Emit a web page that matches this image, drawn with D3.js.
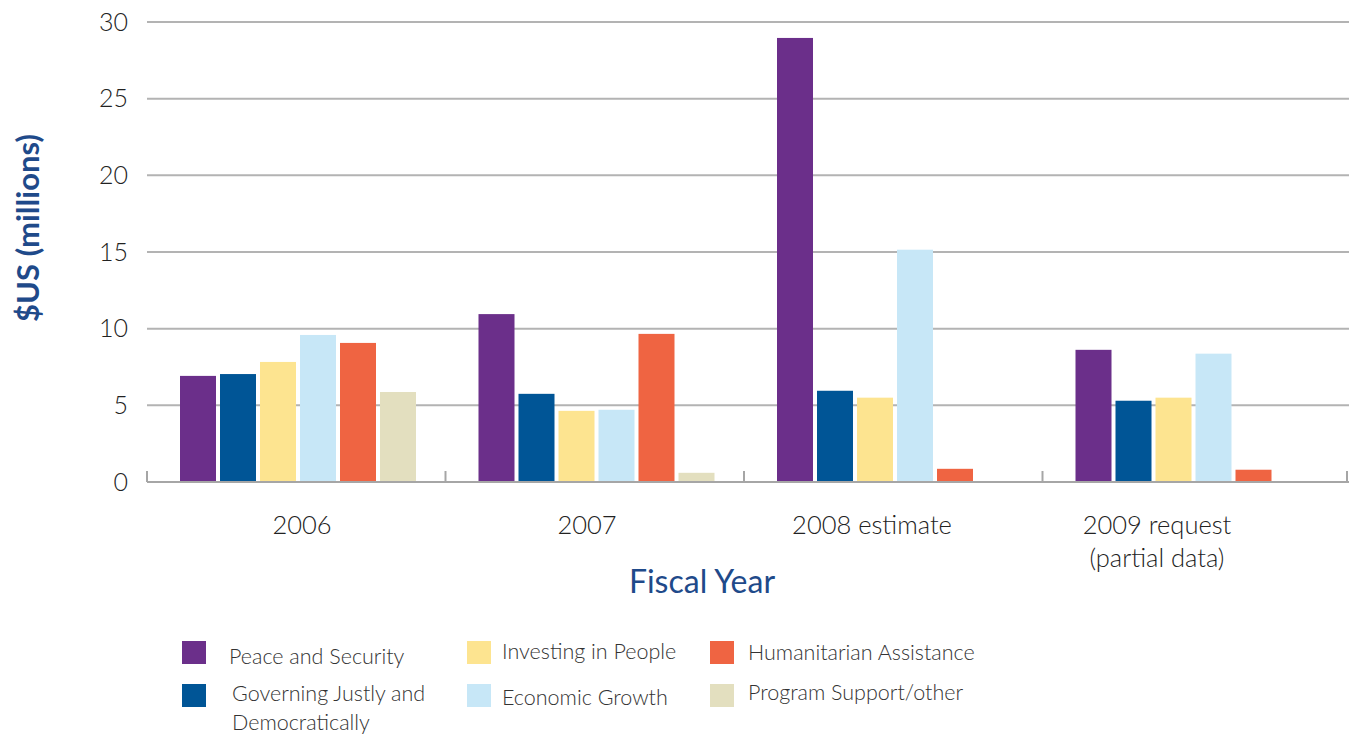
<!DOCTYPE html>
<html>
<head>
<meta charset="utf-8">
<script src="https://cdn.jsdelivr.net/npm/d3@7"></script>
<style>
body { margin: 0; background: #fff; }
text { font-family: Lato, "Open Sans", sans-serif; }
</style>
</head>
<body>
<div id="chart"></div>
<script>
var years = ["2006", "2007", "2008 estimate", "2009 request|(partial data)"];
var series = ["Peace and Security", "Governing Justly and|Democratically", "Investing in People",
  "Economic Growth", "Humanitarian Assistance", "Program Support/other"];
var colors = ["#6b2f8a", "#005596", "#fde490", "#c7e7f7", "#ef6442", "#e3dfbf"];
var peace = [6.92, 10.95, 28.96, 8.62];
var governing = [7.04, 5.75, 5.95, 5.3];
var investing = [7.83, 4.64, 5.5, 5.5];
var economic = [9.59, 4.71, 15.15, 8.37];
var humanitarian = [9.07, 9.66, 0.86, 0.8];
var support = [5.87, 0.6, 0, 0];
var yTicks = [0, 5, 10, 15, 20, 25, 30];

var allValues = [peace, governing, investing, economic, humanitarian, support];

var margin = {top: 22, left: 147},
width = 1200,
height = 460;

var svg = d3.select("#chart")
.append("svg")
.attr("width", 1353)
.attr("height", 735);

var g = svg.append("g")
.attr("transform", "translate(" + margin.left + "," + margin.top + ")");

var x0 = d3.scaleBand()
.domain(years)
.range([0, 1194]);

var x1 = d3.scaleBand()
.domain(series)
.range([33, 269])
.paddingInner(0.1);

var yScale = d3.scaleLinear()
.domain([0, 30])
.range([height, 0]);

// gridlines
g.append("g")
.selectAll("line")
.data(yTicks.filter(function (d) { return d > 0; }))
.enter()
.append("line")
.attr("x1", 0)
.attr("x2", width + 2)
.attr("y1", function (d) { return yScale(d); })
.attr("y2", function (d) { return yScale(d); })
.style("stroke", "#b3b3b3")
.style("stroke-width", 2);

// y tick labels
var yAxis = g.append("g")
.call(d3.axisLeft(yScale).tickValues(yTicks).tickSize(0).tickPadding(19));
yAxis.select(".domain").remove();
yAxis.selectAll("text")
.style("font-size", "25px")
.style("font-weight", 300)
.style("fill", "#222");

// bars
allValues.forEach(function (vals, s) {
  g.append("g")
  .selectAll("rect")
  .data(vals)
  .enter()
  .append("rect")
  .attr("x", function (d, i) { return x0(years[i]) + x1(series[s]); })
  .attr("y", function (d) { return yScale(d); })
  .attr("width", x1.bandwidth())
  .attr("height", function (d) { return height - yScale(d); })
  .style("fill", colors[s]);
});

// baseline with boundary ticks
g.append("line")
.attr("x1", 0).attr("x2", width + 2)
.attr("y1", height).attr("y2", height)
.style("stroke", "#a6a6a6")
.style("stroke-width", 2);

var bounds = years.map(function (d) { return x0(d); }).concat([width]);
g.append("g")
.selectAll("line")
.data(bounds)
.enter()
.append("line")
.attr("x1", function (d) { return d; })
.attr("x2", function (d) { return d; })
.attr("y1", height)
.attr("y2", height - 11)
.style("stroke", "#a6a6a6")
.style("stroke-width", 2);

// category labels
var labelX = d3.scalePoint()
.domain(years)
.range([302 - margin.left, 1157 - margin.left]);

g.append("g")
.selectAll("text")
.data(years)
.enter()
.append("text")
.attr("x", function (d) { return labelX(d); })
.attr("y", height + 52)
.attr("text-anchor", "middle")
.style("font-size", "25.5px")
.style("font-weight", 300)
.style("fill", "#222")
.each(function (d) {
  var parts = d.split("|");
  d3.select(this).selectAll("tspan")
  .data(parts)
  .enter()
  .append("tspan")
  .attr("x", labelX(d))
  .attr("dy", function (p, i) { return i == 0 ? 0 : 33; })
  .text(function (p) { return p; });
});

// axis titles
svg.append("text")
.attr("x", 702)
.attr("y", 593)
.attr("text-anchor", "middle")
.style("font-size", "32px")
.style("fill", "#1f4a8a")
.text("Fiscal Year");

svg.append("text")
.attr("transform", "translate(39,228) rotate(-90)")
.attr("text-anchor", "middle")
.style("font-size", "31px")
.style("font-weight", 700)
.style("fill", "#1f4a8a")
.text("$US (millions)");

// legend
var legendX = [182, 182, 467, 467, 710, 710];
var legendY = [641, 684, 641, 684, 641, 684];
var textX = [229, 232, 502, 502, 748, 748];
var textY = [664, 701, 659, 705, 660, 700];

var legend = svg.append("g");
series.forEach(function (s, i) {
  legend.append("rect")
  .attr("x", legendX[i])
  .attr("y", legendY[i])
  .attr("width", 24)
  .attr("height", 23)
  .style("fill", colors[i]);
  var t = legend.append("text")
  .attr("x", textX[i])
  .attr("y", textY[i])
  .style("font-size", "21.5px")
  .style("font-weight", 300)
  .style("fill", "#333");
  s.split("|").forEach(function (p, j) {
    t.append("tspan")
    .attr("x", textX[i])
    .attr("dy", j == 0 ? 0 : 29)
    .text(p);
  });
});
</script>
</body>
</html>
